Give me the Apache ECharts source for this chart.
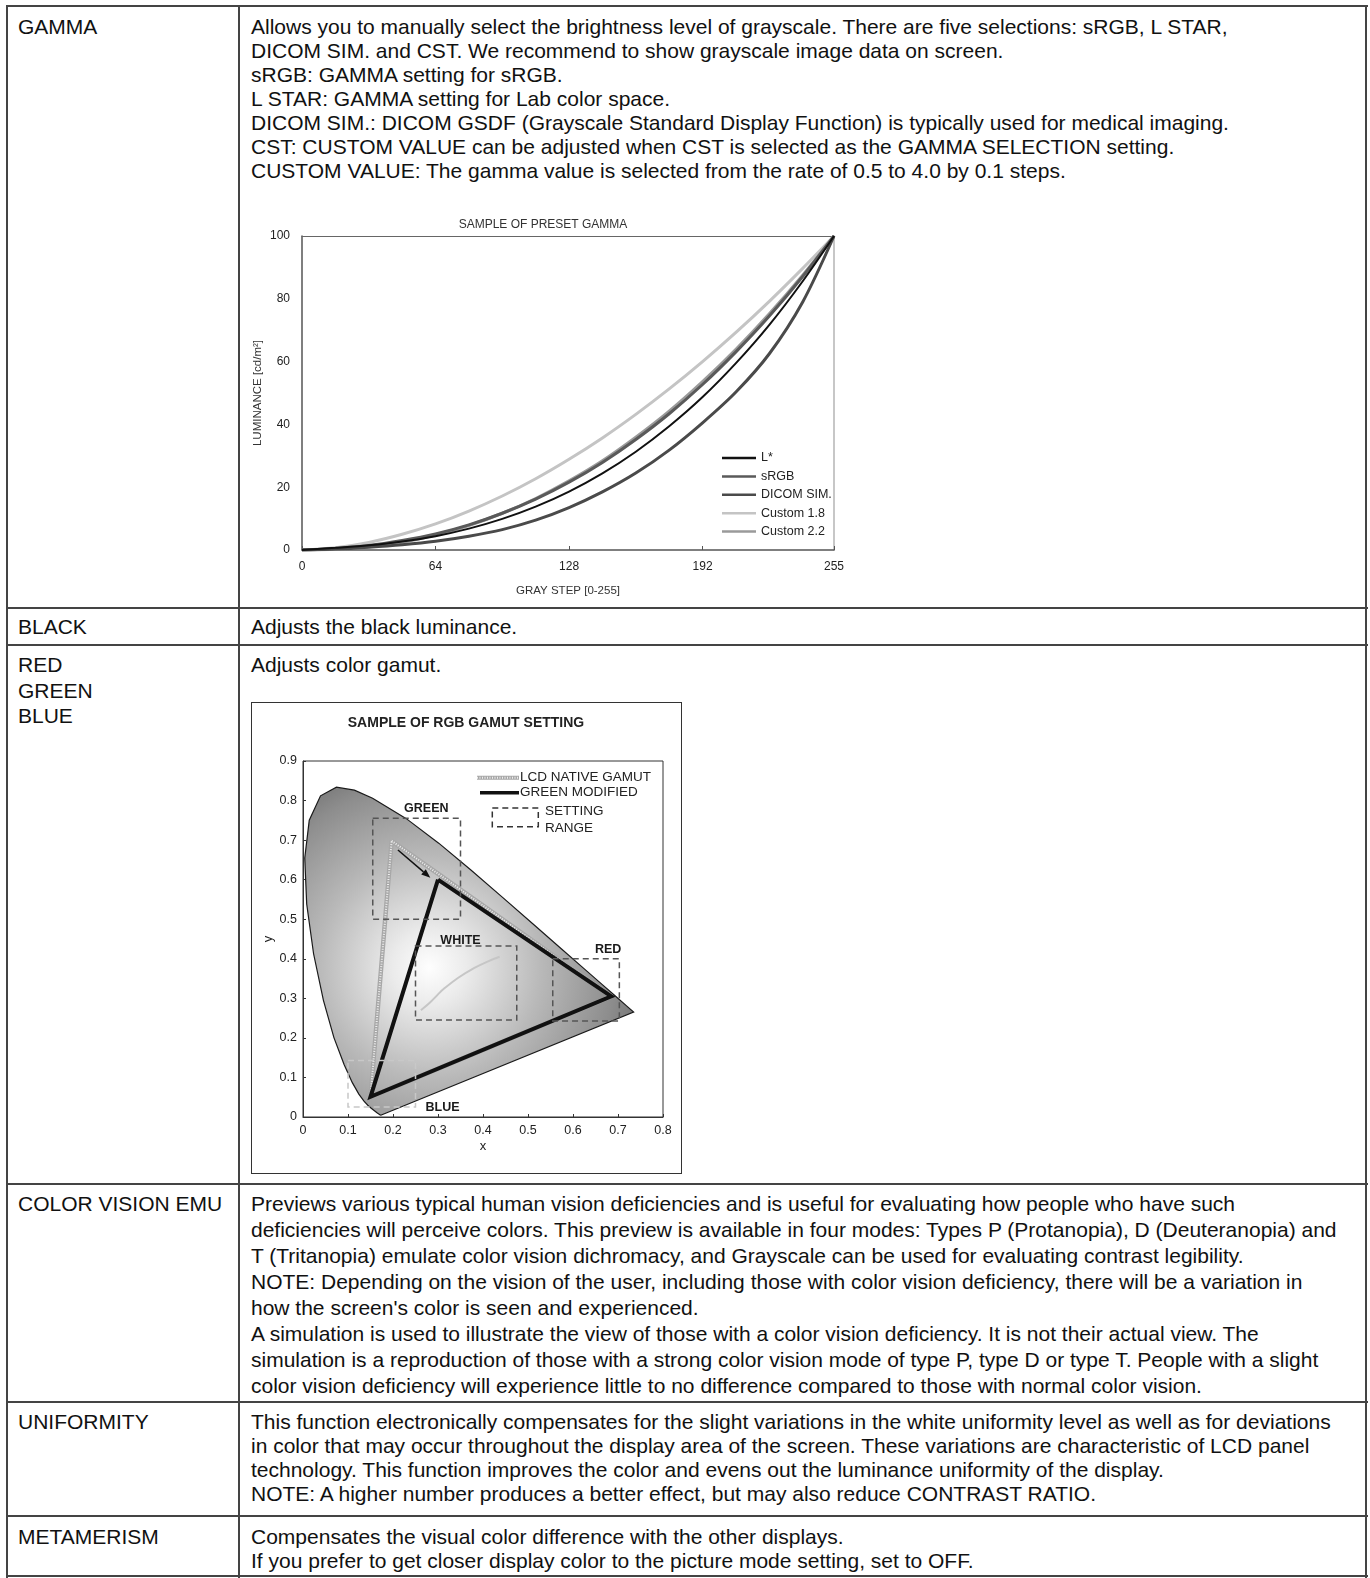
<!DOCTYPE html>
<html>
<head>
<meta charset="utf-8">
<script src="https://cdn.jsdelivr.net/npm/echarts@6.0.0/dist/echarts.min.js"></script>
<style>
  html, body { margin: 0; padding: 0; background: #fff; }
  #page { position: relative; width: 1370px; height: 1578px; overflow: hidden;
    font-family: 'Liberation Sans', Arial, Helvetica, sans-serif; font-size: 21px; color: #111; }
  .hl { position: absolute; left: 6px; width: 1362px; height: 2px; background: #444; }
  .vl { position: absolute; top: 5px; width: 2px; height: 1573px; background: #444; }
  .cell { position: absolute; white-space: pre; }
  #gamutBox { position: absolute; left: 251px; top: 702px; width: 431px; height: 472px;
    border: 1.5px solid #333; box-sizing: border-box; }
</style>
</head>
<body>
<div id="page">
  <div id="gamma" style="position:absolute;left:241px;top:195px;width:640px;height:410px"></div>
  <div id="gamutBox"></div>
  <div id="gamut" style="position:absolute;left:251px;top:702px;width:431px;height:472px"></div>
</div>
<script>
// ---- gamma chart data ----
const grayStep = [0, 16, 32, 48, 64, 80, 96, 112, 128, 144, 160, 176, 192, 208, 224, 240, 255];
const grayTicks = [0, 64, 128, 192, 255];
const lStar    = [0, 0.7, 1.5, 2.7, 4.4, 6.8, 9.9, 13.8, 18.6, 24.4, 31.3, 39.4, 48.7, 59.5, 71.7, 85.6, 100];
const sRGB     = [0, 0.5, 1.4, 3.0, 5.1, 8.0, 11.7, 16.2, 21.6, 27.9, 35.2, 43.4, 52.7, 63.1, 74.5, 87.1, 100];
const dicomSim = [0, 0.3, 0.9, 1.7, 2.8, 4.4, 6.5, 9.5, 13.5, 18.5, 24.5, 31.8, 40.5, 50.3, 62.5, 79.0, 100];
const custom18 = [0, 0.7, 2.4, 5.0, 8.3, 12.4, 17.2, 22.7, 28.9, 35.7, 43.2, 51.3, 60.0, 69.3, 79.2, 89.7, 100];
const custom22 = [0, 0.2, 1.0, 2.5, 4.8, 7.8, 11.7, 16.4, 22.0, 28.4, 35.9, 44.2, 53.6, 63.9, 75.2, 87.5, 100];
const gammaLegend = ['L*', 'sRGB', 'DICOM SIM.', 'Custom 1.8', 'Custom 2.2'];

// ---- gamut chart data ----
const locusX = [0.1741, 0.1733, 0.1714, 0.1644, 0.1566, 0.1510, 0.1440, 0.1355, 0.1241, 0.1096, 0.0913,
  0.0687, 0.0454, 0.0235, 0.0082, 0.0039, 0.0139, 0.0389, 0.0743, 0.1142, 0.1547, 0.2296, 0.3016,
  0.3731, 0.4441, 0.5125, 0.5752, 0.6270, 0.6658, 0.6915, 0.7190, 0.7347];
const locusY = [0.0050, 0.0048, 0.0051, 0.0109, 0.0177, 0.0227, 0.0297, 0.0399, 0.0578, 0.0868, 0.1327,
  0.2007, 0.2950, 0.4127, 0.5384, 0.6548, 0.7502, 0.8120, 0.8338, 0.8262, 0.8059, 0.7543, 0.6923,
  0.6245, 0.5547, 0.4866, 0.4242, 0.3725, 0.3340, 0.3083, 0.2809, 0.2653];
const nativeGamut = [[0.197, 0.698], [0.685, 0.305], [0.150, 0.051], [0.197, 0.698]];
const modifiedGamut = [[0.300, 0.600], [0.685, 0.305], [0.150, 0.051], [0.300, 0.600]];
const whiteCurve = [[0.262, 0.270], [0.281, 0.288], [0.300, 0.310], [0.313, 0.324], [0.345, 0.352],
  [0.381, 0.377], [0.410, 0.393], [0.437, 0.405]];
// setting ranges: x1, y1, x2, y2
const rangeNames = ['GREEN', 'WHITE', 'RED', 'BLUE'];
const rangeBoxes = [[0.155, 0.500, 0.350, 0.755], [0.250, 0.245, 0.475, 0.432],
  [0.555, 0.243, 0.703, 0.400], [0.100, 0.025, 0.250, 0.143]];
const labelX = [0.274, 0.350, 0.678, 0.310];
const labelY = [0.780, 0.447, 0.423, 0.023];
const arrowFrom = [0.211, 0.675];
const arrowTo = [0.283, 0.605];

// ---- table text ----
const cells = [
  { x: 18, y: 26.5, lh: 24.1, lines: ['GAMMA'] },
  { x: 251, y: 26.5, lh: 24.1, lines: [
    'Allows you to manually select the brightness level of grayscale. There are five selections: sRGB, L STAR,',
    'DICOM SIM. and CST. We recommend to show grayscale image data on screen.',
    'sRGB: GAMMA setting for sRGB.',
    'L STAR: GAMMA setting for Lab color space.',
    'DICOM SIM.: DICOM GSDF (Grayscale Standard Display Function) is typically used for medical imaging.',
    'CST: CUSTOM VALUE can be adjusted when CST is selected as the GAMMA SELECTION setting.',
    'CUSTOM VALUE: The gamma value is selected from the rate of 0.5 to 4.0 by 0.1 steps.'] },
  { x: 18, y: 626.5, lh: 24.1, lines: ['BLACK'] },
  { x: 251, y: 626.5, lh: 24.1, lines: ['Adjusts the black luminance.'] },
  { x: 18, y: 665, lh: 25.5, lines: ['RED', 'GREEN', 'BLUE'] },
  { x: 251, y: 665, lh: 25.5, lines: ['Adjusts color gamut.'] },
  { x: 18, y: 1203.5, lh: 26.1, lines: ['COLOR VISION EMU'] },
  { x: 251, y: 1203.5, lh: 26.1, lines: [
    'Previews various typical human vision deficiencies and is useful for evaluating how people who have such',
    'deficiencies will perceive colors. This preview is available in four modes: Types P (Protanopia), D (Deuteranopia) and',
    'T (Tritanopia) emulate color vision dichromacy, and Grayscale can be used for evaluating contrast legibility.',
    'NOTE: Depending on the vision of the user, including those with color vision deficiency, there will be a variation in',
    'how the screen\'s color is seen and experienced.',
    'A simulation is used to illustrate the view of those with a color vision deficiency. It is not their actual view. The',
    'simulation is a reproduction of those with a strong color vision mode of type P, type D or type T. People with a slight',
    'color vision deficiency will experience little to no difference compared to those with normal color vision.'] },
  { x: 18, y: 1421.7, lh: 24.1, lines: ['UNIFORMITY'] },
  { x: 251, y: 1421.7, lh: 24.1, lines: [
    'This function electronically compensates for the slight variations in the white uniformity level as well as for deviations',
    'in color that may occur throughout the display area of the screen. These variations are characteristic of LCD panel',
    'technology. This function improves the color and evens out the luminance uniformity of the display.',
    'NOTE: A higher number produces a better effect, but may also reduce CONTRAST RATIO.'] },
  { x: 18, y: 1536.7, lh: 24.1, lines: ['METAMERISM'] },
  { x: 251, y: 1536.7, lh: 24.1, lines: [
    'Compensates the visual color difference with the other displays.',
    'If you prefer to get closer display color to the picture mode setting, set to OFF.'] }
];
const rowLines = [5, 607, 644, 1183, 1401, 1515, 1575];
const colLines = [6, 238, 1365];

const page = document.getElementById('page');
rowLines.forEach(y => {
  const d = document.createElement('div');
  d.className = 'hl'; d.style.top = y + 'px';
  page.appendChild(d);
});
colLines.forEach(x => {
  const d = document.createElement('div');
  d.className = 'vl'; d.style.left = x + 'px';
  page.appendChild(d);
});
cells.forEach(c => {
  const d = document.createElement('div');
  d.className = 'cell';
  d.style.left = c.x + 'px';
  d.style.lineHeight = c.lh + 'px';
  d.style.top = (c.y - 12 - (c.lh - 24.1) / 2) + 'px';
  d.textContent = c.lines.join('\n');
  page.appendChild(d);
});

const FONT = "'Liberation Sans', Arial, sans-serif";

// ---- gamma chart ----
const gammaChart = echarts.init(document.getElementById('gamma'));
const pair = arr => grayStep.map((g, i) => [g, arr[i]]);
const gammaLines = [
  { name: 'Custom 1.8', data: custom18, color: '#c4c4c4', width: 3 },
  { name: 'Custom 2.2', data: custom22, color: '#9a9a9a', width: 3 },
  { name: 'sRGB', data: sRGB, color: '#5a5a5a', width: 3 },
  { name: 'DICOM SIM.', data: dicomSim, color: '#4a4a4a', width: 3 },
  { name: 'L*', data: lStar, color: '#111111', width: 2 }
];
gammaChart.setOption({
  animation: false,
  textStyle: { fontFamily: FONT },
  title: {
    text: 'SAMPLE OF PRESET GAMMA', left: 302, top: 24, padding: 0, textAlign: 'center',
    textStyle: { fontSize: 12, fontWeight: 'normal', color: '#333', fontFamily: FONT }
  },
  legend: {
    data: gammaLegend, orient: 'vertical', left: 481, top: 256, padding: 0,
    icon: 'rect', itemGap: 4.4, itemWidth: 34, itemHeight: 2.5,
    textStyle: { fontSize: 12.5, lineHeight: 14, color: '#222', fontFamily: FONT }
  },
  grid: { left: 61, top: 41, width: 532, height: 314, containLabel: false, outerBoundsMode: 'none' },
  xAxis: [{
    type: 'value', min: 0, max: 255,
    name: 'GRAY STEP [0-255]', nameLocation: 'middle', nameGap: 35, nameMoveOverlap: false,
    nameTextStyle: { fontSize: 11.5, color: '#333' },
    axisLine: { show: true, onZero: false, lineStyle: { color: '#555', width: 1.5 } },
    axisTick: { show: true, inside: true, length: 4, customValues: grayTicks, lineStyle: { color: '#555' } },
    axisLabel: { customValues: grayTicks, fontSize: 12, color: '#222', margin: 11 },
    splitLine: { show: false }
  }, {
    type: 'value', min: 0, max: 255, position: 'top',
    axisLine: { show: true, onZero: false, lineStyle: { color: '#666', width: 1 } },
    axisTick: { show: false }, axisLabel: { show: false }, splitLine: { show: false }
  }],
  yAxis: [{
    type: 'value', min: 0, max: 100, interval: 20,
    name: 'LUMINANCE [cd/m²]', nameLocation: 'middle', nameGap: 38, nameRotate: 90, nameMoveOverlap: false,
    nameTextStyle: { fontSize: 11.5, color: '#333' },
    axisLine: { show: true, onZero: false, lineStyle: { color: '#555', width: 1.5 } },
    axisTick: { show: false },
    axisLabel: { fontSize: 12, color: '#222', margin: 12 },
    splitLine: { show: false }
  }, {
    type: 'value', min: 0, max: 100, position: 'right',
    axisLine: { show: true, onZero: false, lineStyle: { color: '#b5b5b5', width: 1.5 } },
    axisTick: { show: false }, axisLabel: { show: false }, splitLine: { show: false }
  }],
  series: gammaLines.map((s, i) => ({
    type: 'line', name: s.name, data: pair(s.data), smooth: 0.3, symbol: 'none',
    xAxisIndex: 0, yAxisIndex: 0, z: 2 + i,
    lineStyle: { color: s.color, width: s.width }, itemStyle: { color: s.color }
  }))
});

// ---- gamut chart ----
const gamutChart = echarts.init(document.getElementById('gamut'));
const locusFill = new echarts.graphic.RadialGradient(0.38, 0.55, 0.75, [
  { offset: 0, color: '#fefefe' },
  { offset: 0.15, color: '#ebebeb' },
  { offset: 0.45, color: '#b9b9b9' },
  { offset: 0.75, color: '#8d8d8d' },
  { offset: 1, color: '#5c5c5c' }
]);
const boxStroke = ['#555', '#555', '#555', '#c8c8c8'];
const labelFont = "bold 12.5px 'Liberation Sans', Arial, sans-serif";
const legendFont = "13.5px 'Liberation Sans', Arial, sans-serif";

gamutChart.setOption({
  animation: false,
  textStyle: { fontFamily: FONT },
  title: {
    text: 'SAMPLE OF RGB GAMUT SETTING', left: 215, top: 14, padding: 0, textAlign: 'center',
    textStyle: { fontSize: 14, fontWeight: 'bold', color: '#222', fontFamily: FONT }
  },
  grid: { left: 52, top: 59, width: 360, height: 356, show: true, borderColor: '#333', borderWidth: 1,
    containLabel: false, outerBoundsMode: 'none' },
  xAxis: {
    type: 'value', min: 0, max: 0.8, interval: 0.1,
    name: 'x', nameLocation: 'middle', nameGap: 23, nameMoveOverlap: false,
    nameTextStyle: { fontSize: 13, color: '#222' },
    axisLine: { show: true, lineStyle: { color: '#333', width: 1 } },
    axisTick: { show: true, inside: true, length: 3, lineStyle: { color: '#333' } },
    axisLabel: { fontSize: 12.5, color: '#222', margin: 7 },
    splitLine: { show: false }
  },
  yAxis: {
    type: 'value', min: 0, max: 0.9, interval: 0.1,
    name: 'y', nameLocation: 'middle', nameGap: 28, nameRotate: 90, nameMoveOverlap: false,
    nameTextStyle: { fontSize: 13, color: '#222' },
    axisLine: { show: true, lineStyle: { color: '#333', width: 1 } },
    axisTick: { show: true, inside: true, length: 3, lineStyle: { color: '#333' } },
    axisLabel: { fontSize: 12.5, color: '#222', margin: 6 },
    splitLine: { show: false }
  },
  graphic: [
    { type: 'line', shape: { x1: 226, y1: 75.7, x2: 268, y2: 75.7 }, style: { stroke: '#a8a8a8', lineWidth: 4 } },
    { type: 'line', shape: { x1: 226, y1: 75.7, x2: 268, y2: 75.7 }, style: { stroke: '#eeeeee', lineWidth: 2, lineDash: [1, 1.5] } },
    { type: 'line', shape: { x1: 229, y1: 90.7, x2: 268, y2: 90.7 }, style: { stroke: '#111', lineWidth: 3.5 } },
    { type: 'text', x: 269, y: 75.7, style: { text: 'LCD NATIVE GAMUT', font: legendFont, fill: '#222', textVerticalAlign: 'middle' } },
    { type: 'text', x: 269, y: 90.7, style: { text: 'GREEN MODIFIED', font: legendFont, fill: '#222', textVerticalAlign: 'middle' } },
    { type: 'rect', shape: { x: 241.3, y: 106, width: 46, height: 18.7 },
      style: { fill: 'none', stroke: '#333', lineWidth: 1.5, lineDash: [6, 4] } },
    { type: 'text', x: 294, y: 109.7, style: { text: 'SETTING', font: legendFont, fill: '#222', textVerticalAlign: 'middle' } },
    { type: 'text', x: 294, y: 126.3, style: { text: 'RANGE', font: legendFont, fill: '#222', textVerticalAlign: 'middle' } }
  ],
  series: [
    {
      type: 'custom', name: 'locus', coordinateSystem: 'cartesian2d', data: [0], silent: true, z: 1, clip: false,
      renderItem: (params, api) => ({
        type: 'polygon',
        shape: { points: locusX.map((x, i) => api.coord([x, locusY[i]])) },
        style: { fill: locusFill, stroke: '#1a1a1a', lineWidth: 1.2 }
      })
    },
    {
      type: 'line', name: 'white', data: whiteCurve, smooth: 0.4, symbol: 'none', silent: true, z: 2,
      lineStyle: { color: '#c6c6c6', width: 2 }
    },
    {
      type: 'line', name: 'native', data: nativeGamut, symbol: 'none', silent: true, z: 3,
      lineStyle: { color: '#a8a8a8', width: 4.5 }
    },
    {
      type: 'line', name: 'nativeHatch', data: nativeGamut, symbol: 'none', silent: true, z: 3,
      lineStyle: { color: '#eeeeee', width: 2, type: [1, 1.5] }
    },
    {
      type: 'line', name: 'modified', data: modifiedGamut, symbol: 'none', silent: true, z: 4,
      lineStyle: { color: '#111', width: 4, join: 'miter' }
    },
    {
      type: 'custom', name: 'ranges', coordinateSystem: 'cartesian2d', data: rangeBoxes, silent: true, z: 5,
      renderItem: (params, api) => {
        const a = api.coord([api.value(0), api.value(3)]);
        const b = api.coord([api.value(2), api.value(1)]);
        return {
          type: 'rect',
          shape: { x: a[0], y: a[1], width: b[0] - a[0], height: b[1] - a[1] },
          style: { fill: 'none', stroke: boxStroke[params.dataIndex], lineWidth: 1.5, lineDash: [6, 4] }
        };
      }
    },
    {
      type: 'custom', name: 'arrow', coordinateSystem: 'cartesian2d', data: [0], silent: true, z: 6,
      renderItem: (params, api) => {
        const p0 = api.coord(arrowFrom), p1 = api.coord(arrowTo);
        const ang = Math.atan2(p1[1] - p0[1], p1[0] - p0[0]);
        const L = 9, W = 3.5;
        const bx = p1[0] - L * Math.cos(ang), by = p1[1] - L * Math.sin(ang);
        return {
          type: 'group',
          children: [
            { type: 'line', shape: { x1: p0[0], y1: p0[1], x2: bx, y2: by }, style: { stroke: '#111', lineWidth: 1.5 } },
            { type: 'polygon', shape: { points: [p1,
              [bx + W * Math.sin(ang), by - W * Math.cos(ang)],
              [bx - W * Math.sin(ang), by + W * Math.cos(ang)]] }, style: { fill: '#111' } }
          ]
        };
      }
    },
    {
      type: 'custom', name: 'labels', coordinateSystem: 'cartesian2d',
      data: rangeNames.map((n, i) => [labelX[i], labelY[i]]), silent: true, z: 7, clip: false,
      renderItem: (params, api) => {
        const p = api.coord([api.value(0), api.value(1)]);
        return {
          type: 'text', x: p[0], y: p[1],
          style: { text: rangeNames[params.dataIndex], font: labelFont, fill: '#1a1a1a',
            textAlign: 'center', textVerticalAlign: 'middle' }
        };
      }
    }
  ]
});
</script>
</body>
</html>
